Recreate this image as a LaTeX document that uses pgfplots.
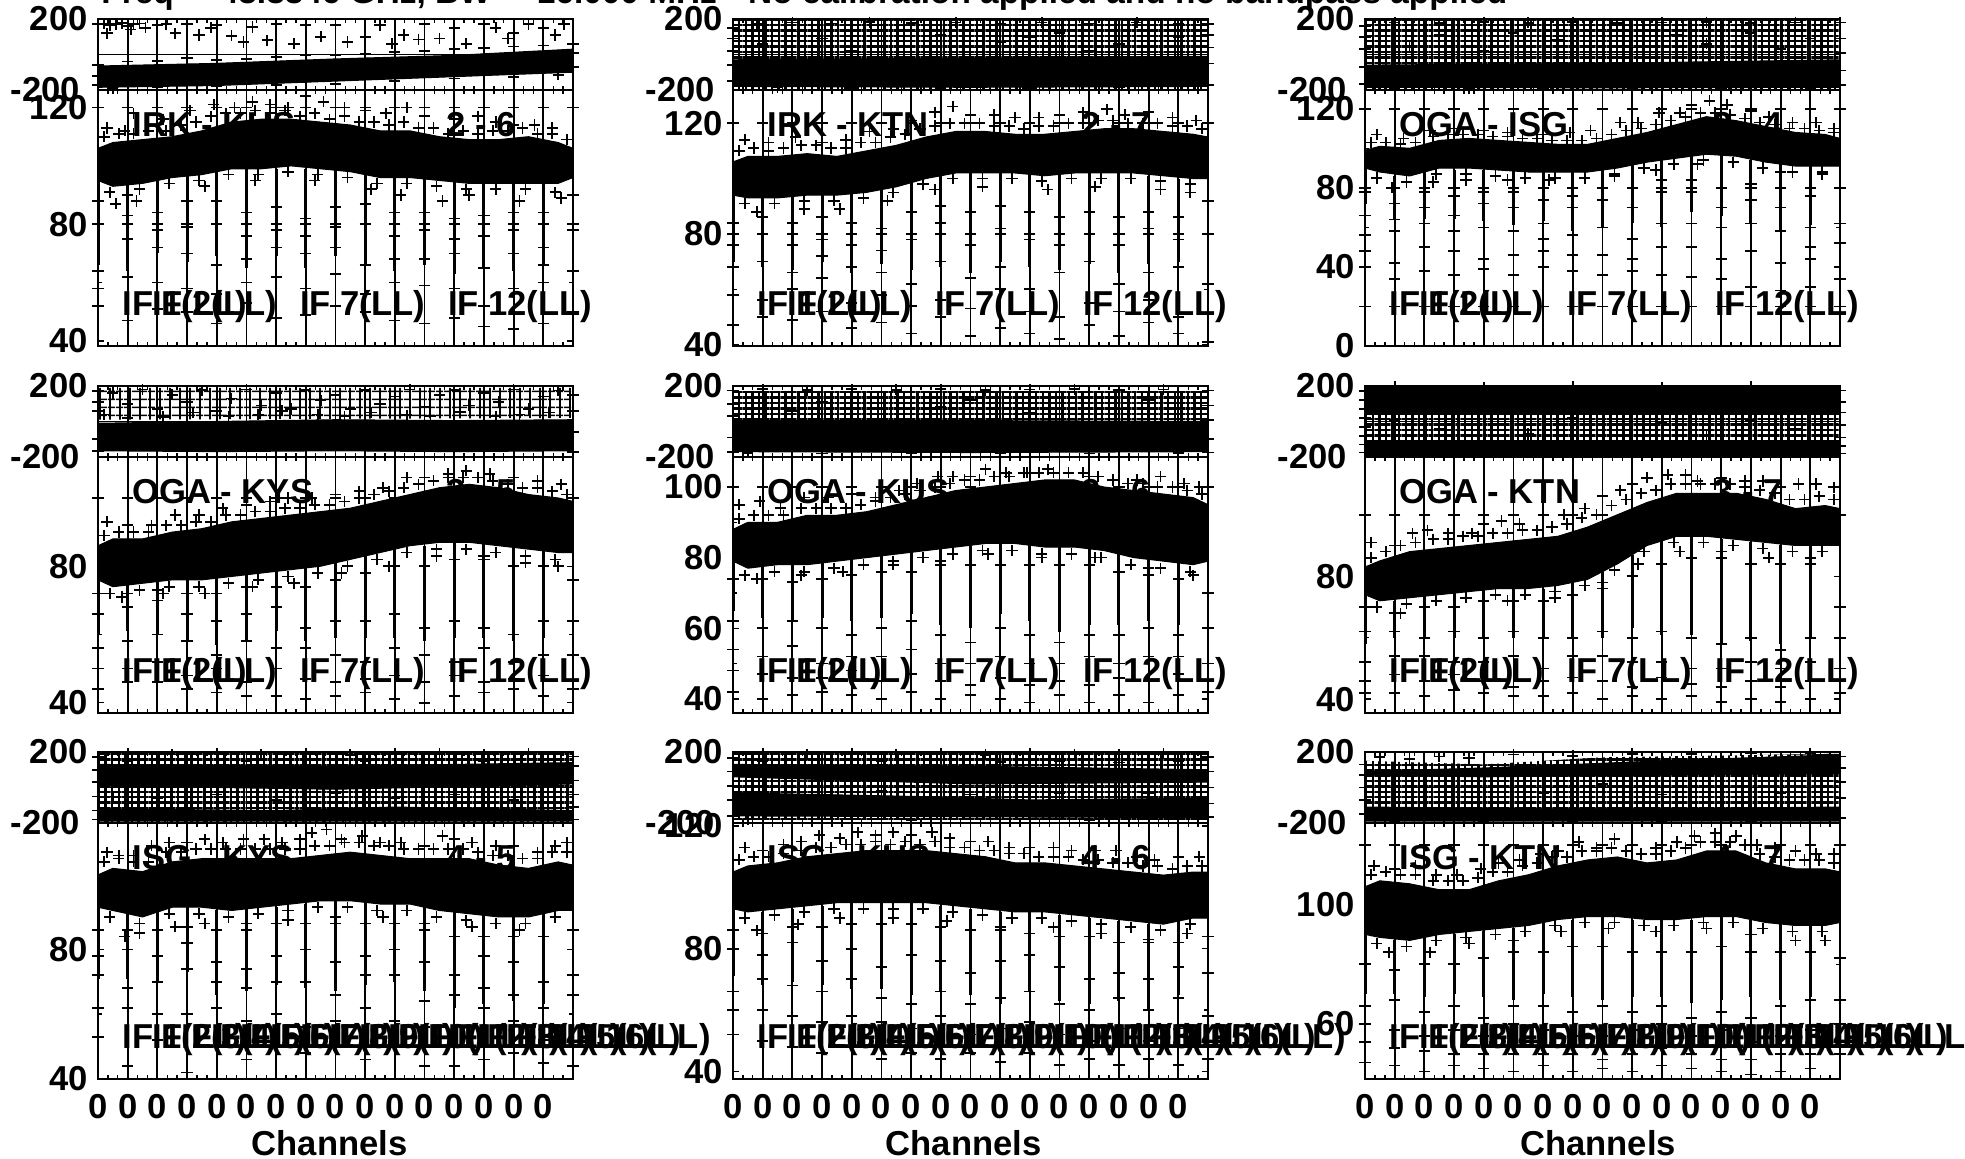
\documentclass[border=0pt]{standalone}
\usepackage{pgfplots}
\pgfplotsset{compat=1.18}
\usetikzlibrary{patterns.meta}
\usepackage{fontspec}
\setmainfont{Liberation Sans}
\newcommand{\lbl}{\fontsize{17.3}{19}\selectfont\bfseries}
\newcommand{\ttl}{\fontsize{16.7}{18}\selectfont\bfseries}
\pgfplotsset{
 base/.style={scale only axis,width=237.5pt,xmin=0,xmax=16,xtick={0,...,16},minor x tick num=2,
  xmajorgrids,major grid style={black,line width=.9pt},tick style={black,line width=.7pt},
  major tick length=3pt,minor tick length=2pt,tick align=inside,axis line style={black,line width=1pt},
  clip mode=individual,xticklabels={},tick label style={font=\lbl},
  yticklabel style={anchor=east,inner sep=0pt,xshift=-5pt},
  xticklabel style={anchor=north,inner sep=0pt,yshift=-7.5pt},anchor=south west},
 ph/.style={base,height=35.5pt,ymin=-200,ymax=200,ytick={-200,0,200},yticklabels={{-200\rule{3.7pt}{0pt}},,200},ymajorgrids},
 am/.style={base,height=128pt,minor y tick num=1},
 zero/.style={xticklabels={0,0,0,0,0,0,0,0,0,0,0,0,0,0,0,0,{}}}
}
\newcommand{\Bd}[1]{\addplot[black,fill=black,line width=.5pt,mark=none] coordinates {#1};}
\newcommand{\Gy}[1]{\addplot[draw=none,pattern={Lines[angle=0,distance=2.7pt,line width=1.25pt]},pattern color=black,mark=none] coordinates {#1};\addplot[draw=none,pattern={Lines[angle=90,distance=3.3pt,line width=1.25pt]},pattern color=black,mark=none] coordinates {#1};}
\newcommand{\Gz}[1]{\addplot[draw=none,pattern={Lines[angle=0,distance=4pt,line width=.9pt]},pattern color=black,mark=none] coordinates {#1};\addplot[draw=none,pattern={Lines[angle=90,distance=5pt,line width=.9pt]},pattern color=black,mark=none] coordinates {#1};}
\newcommand{\Mk}[1]{\addplot[black,only marks,mark=+,mark size=2.8pt,mark options={line width=.85pt}] coordinates {#1};}
\newcommand{\Sp}[1]{\addplot[black,only marks,mark=*,mark size=0pt,error bars/.cd,y dir=minus,y explicit,error mark=none,error bar style={black,line width=1.5pt}] coordinates {#1};}
\newcommand{\Cr}[1]{\addplot[black,only marks,mark=-,mark size=2.8pt,mark options={line width=.8pt}] coordinates {(0,#1)(1,#1)(2,#1)(3,#1)(4,#1)(5,#1)(6,#1)(7,#1)(8,#1)(9,#1)(10,#1)(11,#1)(12,#1)(13,#1)(14,#1)(15,#1)(16,#1)};}
\newcommand{\Nm}[4]{\node[anchor=base west,inner sep=0pt,font=\lbl] at (#1+17,#2+104.5) {#3};\node[anchor=base west,inner sep=0pt,font=\lbl] at (#1+174,#2+104.5) {#4};}
\newcommand{\Ifs}[3]{\foreach \n in {#3}{\node[anchor=base west,inner sep=0pt,font=\lbl] at ({#1+12+14.8*(\n-1)},#2+15.3) {IF \n(LL)};}}
\begin{document}
\begin{tikzpicture}[x=1pt,y=1pt]
\useasboundingbox (0,0) rectangle (982.5,579.5);
\node[anchor=base west,inner sep=0pt,font=\ttl] at (50.5,577.5) {Freq =\hspace{4pt} 43.8346 GHz, BW =\hspace{4pt} 16.000 MHz\hspace{11pt} No calibration applied and no bandpass applied};
% ---------- row 1 col 1
\begin{axis}[ph,at={(49pt,534.5pt)}]
\Bd{(0,-65)(4,-50)(8,-25)(12,-5)(16,30)(16,-100)(12,-125)(8,-150)(4,-175)(0,-185)}
\Mk{(0,170)(.2,175)(.4,165)(.6,172)(.8,176)(1,160)(1.2,172)(1.4,175)(1.6,150)(.3,120)(1.1,140)(2,165)(2.3,170)(2.6,120)(3,172)(3.4,110)(3.8,150)(4,165)(4.5,105)(4.9,70)(5.2,155)(5.7,80)(6,170)(6.6,60)(7,165)(7.5,100)(8,165)(8.4,70)(9,100)(9.5,165)(9.9,60)(10.3,110)(10.8,85)(11,170)(11.5,90)(12,150)(12.4,60)(13,170)(13.4,150)(13.8,90)(14,120)(14.5,170)(15,150)(15.4,110)(15.7,170)(16,60)(0,-120)(0,-170)(16,10)(16,-70)(0,-60)(1,-40)(2,-35)(3,-20)(5,-25)(7,-5)(9,5)(11,20)(13,35)(15,50)(.5,-190)(2,-185)(4,-180)(6,-170)(8,-165)(10,-150)(12,-135)(14,-125)(15.5,-115)(4,-30)(6,-15)(8,-5)(10,15)(12,30)(14,45)}
\end{axis}
\begin{axis}[am,at={(49pt,406.5pt)},ymin=38.3,ymax=126,ytick={40,80,120},yticklabels={40,80,120}]
\Bd{(0,106)(.5,108)(1.5,109)(2.5,110)(3.5,112)(4.5,115)(5.5,116)(6.5,116)(7.5,115)(8.5,114)(9.5,112)(10.5,112)(11.5,110)(12.5,109)(13.5,109)(14.5,110)(15.5,108)(16,106)(16,96)(15.5,94)(14.5,94)(13.5,94)(12.5,94)(11.5,95)(10.5,96)(9.5,96)(8.5,98)(7.5,99)(6.5,100)(5.5,99)(4.5,99)(3.5,97)(2.5,96)(1.5,94)(.5,93)(0,95)}
\Sp{(0,96) -= (0,30)(1,96) -= (0,32)(2,97) -= (0,27)(3,97) -= (0,30)(4,99) -= (0,30)(5,99) -= (0,34)(6,99) -= (0,30)(7,99) -= (0,34)(8,99) -= (0,30)(9,98) -= (0,32)(10,97) -= (0,33)(11,96) -= (0,30)(12,95) -= (0,32)(13,95) -= (0,30)(14,94) -= (0,30)(15,94) -= (0,28)(16,95) -= (0,20)}
\Cr{120}\Cr{80}
\Mk{(.2,110)(.7,111)(1.2,111)(1.7,112)(2.3,112)(2.8,114)(3.3,115)(3.8,117)(4.3,118)(4.8,118)(5.3,119)(5.8,118)(6.3,119)(6.8,117)(7.3,118)(7.8,116)(8.3,117)(8.8,115)(9.3,115)(9.8,114)(10.3,115)(10.8,113)(11.3,113)(11.8,111)(12.3,112)(12.8,111)(13.3,112)(13.8,112)(14.3,113)(14.8,111)(15.3,111)(15.8,109)
(.4,91)(1.4,92)(2.4,94)(3.4,95)(4.4,97)(5.4,97)(6.4,98)(7.4,97)(8.4,96)(9.4,94)(10.4,94)(11.4,93)(12.4,92)(13.4,92)(14.4,92)(15.4,91)
(1.2,118)(2.2,116)(3.1,119)(3.9,121)(4.6,120)(5.2,122)(5.8,121)(6.4,120)(7,124)(7.6,122)(8.3,120)(9,119)(9.7,118)(10.4,120)(11,117)(12,116)(12.8,117)(13.4,115)(14,114)(14.7,114)(.3,113)(.9,112)(15.3,113)(1.3,88)(3.6,93)(5.3,95)(7.3,95)(9.2,92)(10.2,90)(11.6,88)(12.5,90)(14.2,88)(15.6,89)(.6,87)
(0,88)(0,80)(0,64)(0,58)(0,52)(1,90)(1,83)(1,75)(1,62)(1,47)(2,84)(2,78)(2,72)(2,60)(2,51)(3,88)(3,79)(3,70)(3,58)(3,50)(4,88)(4,80)(4,66)(4,56)(4,46)(5,84)(5,76)(5,68)(5,60)(5,53)(6,86)(6,78)(6,72)(6,62)(6,48)(7,82)(7,76)(7,70)(7,58)(7,49)(8,86)(8,79)(8,72)(8,63)(8,52)(9,87)(9,80)(9,66)(9,56)(9,50)(10,84)(10,76)(10,68)(10,60)(10,47)(11,84)(11,78)(11,68)(11,59)(11,46)(12,82)(12,75)(12,70)(12,58)(12,48)(13,83)(13,76)(13,65)(13,52)(13,45)(14,84)(14,78)(14,70)(14,58)(14,44)(15,84)(15,72)(15,66)(15,60)(15,46)(16,90)(16,78)(16,64)(16,50)}
\end{axis}
% ---------- row 1 col 2
\begin{axis}[ph,at={(366.5pt,534.5pt)}]
\Gy{(0,-190)(0,190)(16,190)(16,-190)}
\Bd{(0,-30)(8,-20)(16,-10)(16,-180)(8,-185)(0,-180)}
\Mk{(0,150)(0,90)(0,20)(0,-60)(0,-150)(16,170)(16,110)(16,40)(16,-50)(16,-170)(.8,175)(2,180)(3.3,175)(4.6,182)(6,176)(7.5,180)(9,172)(10.4,180)(12,175)(13.6,180)(15,174)(1.5,-186)(4,-190)(7,-188)(10,-190)(13,-186)(1,60)(3,90)(5,40)(7,110)(9,70)(11,120)(13,60)(15,100)(2,130)(4,20)(6,130)(8,40)(10,100)(12,20)(14,140)}
\end{axis}
\begin{axis}[am,at={(366.5pt,406.5pt)},ymin=39.5,ymax=132,ytick={40,80,120},yticklabels={40,80,120}]
\Bd{(0,106)(.5,108)(1.5,108)(2.5,109)(3.5,108)(4.5,110)(5.5,112)(6.5,115)(7.5,117)(8.5,117)(9.5,116)(10.5,116)(11.5,117)(12.5,118)(13.5,118)(14.5,117)(15.5,116)(16,115)(16,100)(15.5,100)(14.5,101)(13.5,102)(12.5,102)(11.5,102)(10.5,101)(9.5,102)(8.5,102)(7.5,102)(6.5,100)(5.5,97)(4.5,95)(3.5,94)(2.5,94)(1.5,93)(.5,93)(0,94)}
\Sp{(0,94) -= (0,24)(1,94) -= (0,26)(2,95) -= (0,28)(3,95) -= (0,25)(4,96) -= (0,30)(5,97) -= (0,28)(6,100) -= (0,33)(7,102) -= (0,34)(8,102) -= (0,36)(9,102) -= (0,32)(10,102) -= (0,34)(11,102) -= (0,35)(12,102) -= (0,33)(13,102) -= (0,36)(14,101) -= (0,32)(15,100) -= (0,30)(16,100) -= (0,20)}
\Cr{120}\Cr{80}
\Mk{(.2,110)(.7,111)(1.2,110)(1.7,111)(2.3,112)(2.8,112)(3.3,111)(3.8,111)(4.3,113)(4.8,113)(5.3,115)(5.8,116)(6.3,118)(6.8,119)(7.3,120)(7.8,120)(8.3,120)(8.8,119)(9.3,119)(9.8,118)(10.3,119)(10.8,119)(11.3,120)(11.8,120)(12.3,121)(12.8,121)(13.3,120)(13.8,120)(14.3,120)(14.8,119)(15.3,119)(15.8,118)
(.4,91)(1.4,91)(2.4,92)(3.4,92)(4.4,93)(5.4,95)(6.4,98)(7.4,100)(8.4,100)(9.4,100)(10.4,99)(11.4,100)(12.4,100)(13.4,100)(14.4,99)(15.4,98)
(.4,114)(1.2,113)(2.1,115)(3,113)(3.8,114)(4.6,117)(5.4,118)(6,121)(6.8,124)(7.4,126)(8,123)(8.8,123)(9.5,122)(10.3,122)(11,123)(11.8,124)(12.6,125)(13.2,123)(14,124)(14.8,122)(15.6,121)(.8,88)(2.4,89)(3.6,89)(5.2,92)(6.8,96)(8.4,97)(10.6,96)(12.2,97)(14.4,96)(15.4,95)
(0,84)(0,76)(0,68)(0,58)(0,47)(1,86)(1,80)(1,70)(1,56)(1,50)(2,84)(2,76)(2,66)(2,60)(2,49)(3,86)(3,78)(3,72)(3,64)(3,52)(4,84)(4,76)(4,68)(4,55)(4,46)(5,82)(5,74)(5,66)(5,58)(5,48)(6,88)(6,78)(6,62)(6,54)(6,44)(7,90)(7,84)(7,70)(7,56)(7,50)(8,88)(8,76)(8,64)(8,53)(8,43)(9,90)(9,82)(9,68)(9,60)(9,46)(10,88)(10,78)(10,60)(10,52)(10,44)(11,86)(11,76)(11,66)(11,50)(11,42)(12,88)(12,80)(12,70)(12,55)(12,47)(13,86)(13,76)(13,62)(13,52)(13,43)(14,88)(14,82)(14,66)(14,56)(14,48)(15,86)(15,78)(15,68)(15,50)(15,44)(16,92)(16,80)(16,62)(16,41)}
\end{axis}
% ---------- row 1 col 3
\begin{axis}[ph,at={(682.5pt,534.5pt)}]
\Gy{(0,-190)(0,192)(16,192)(16,-190)}
\Bd{(0,-60)(8,-50)(16,-30)(16,-185)(8,-188)(0,-185)}
\Mk{(0,160)(0,100)(0,30)(0,-70)(0,-165)(16,180)(16,90)(16,10)(16,-90)(16,-170)(1,180)(2.5,176)(4,182)(5.5,178)(7,182)(8.5,176)(10,180)(11.5,182)(13,176)(14.5,180)(1,-190)(3.5,-192)(6,-190)(9,-192)(12,-190)(15,-192)(1.5,50)(4,20)(6.5,80)(9,40)(11.5,60)(14,30)(2.5,110)(5,120)(8,130)(10.5,110)(13,120)(15,90)}
\end{axis}
\begin{axis}[am,at={(682.5pt,406.5pt)},ymin=0,ymax=129.5,ytick={0,40,80,120},yticklabels={0,40,80,120}]
\Bd{(0,99)(.5,101)(1.5,100)(2.5,104)(3.5,105)(4.5,104)(5.5,103)(6.5,102)(7.5,102)(8.5,105)(9.5,108)(10.5,112)(11.5,116)(12.5,114)(13.5,111)(14.5,108)(15.5,107)(16,105)(16,91)(15.5,91)(14.5,91)(13.5,93)(12.5,96)(11.5,97)(10.5,95)(9.5,93)(8.5,90)(7.5,88)(6.5,88)(5.5,88)(4.5,89)(3.5,90)(2.5,90)(1.5,86)(.5,88)(0,90)}
\Sp{(0,90) -= (0,18)(1,86) -= (0,22)(2,88) -= (0,24)(3,89) -= (0,25)(4,89) -= (0,26)(5,89) -= (0,28)(6,88) -= (0,25)(7,88) -= (0,30)(8,90) -= (0,30)(9,92) -= (0,30)(10,94) -= (0,34)(11,96) -= (0,28)(12,96) -= (0,30)(13,94) -= (0,32)(14,92) -= (0,34)(15,91) -= (0,30)(16,91) -= (0,14)}
\Cr{120}\Cr{80}\Cr{20}
\Mk{(.2,103)(.7,103)(1.2,102)(1.7,103)(2.3,106)(2.8,107)(3.3,107)(3.8,107)(4.3,106)(4.8,106)(5.3,105)(5.8,105)(6.3,104)(6.8,104)(7.3,104)(7.8,105)(8.3,107)(8.8,109)(9.3,110)(9.8,112)(10.3,114)(10.8,116)(11.3,118)(11.8,118)(12.3,117)(12.8,115)(13.3,113)(13.8,112)(14.3,110)(14.8,110)(15.3,109)(15.8,108)
(.4,85)(1.4,83)(2.4,87)(3.4,87)(4.4,86)(5.4,85)(6.4,85)(7.4,85)(8.4,87)(9.4,90)(10.4,92)(11.4,94)(12.4,93)(13.4,90)(14.4,88)(15.4,88)
(.4,107)(1.3,105)(2.2,109)(3,110)(4,109)(4.8,108)(6,107)(6.9,108)(7.6,109)(8.6,113)(9.2,113)(9.9,118)(10.6,118)(11,122)(11.6,124)(12.2,122)(13,119)(13.6,116)(14.4,113)(15.2,113)(15.8,110)(.9,80)(2.3,83)(3.4,84)(4.8,84)(6.2,84)(7.4,85)(8.4,86)(9.8,89)(11.2,92)(12.4,93)(14,88)(15.4,87)
(0,78)(0,66)(0,56)(0,48)(0,40)(1,72)(1,64)(1,58)(1,42)(1,34)(2,78)(2,70)(2,62)(2,50)(2,38)(3,76)(3,66)(3,58)(3,48)(3,36)(4,78)(4,72)(4,60)(4,44)(4,39)(5,78)(5,70)(5,58)(5,46)(5,36)(6,74)(6,62)(6,54)(6,48)(6,40)(7,76)(7,70)(7,56)(7,46)(7,38)(8,80)(8,74)(8,60)(8,46)(8,36)(9,80)(9,70)(9,54)(9,44)(9,38)(10,84)(10,78)(10,62)(10,50)(10,36)(11,84)(11,78)(11,62)(11,50)(11,35)(12,80)(12,70)(12,60)(12,44)(12,34)(13,82)(13,74)(13,62)(13,48)(13,30)(14,80)(14,70)(14,58)(14,42)(14,28)(15,76)(15,60)(15,50)(15,44)(15,30)(16,80)(16,62)(16,52)(16,34)}
\end{axis}
% ---------- row 2 col 1
\begin{axis}[ph,at={(49pt,351pt)}]
\Gz{(0,10)(0,190)(16,190)(16,20)}
\Bd{(0,-10)(4,0)(8,10)(12,5)(16,10)(16,-165)(12,-170)(8,-165)(4,-170)(0,-165)}
\Mk{(0,170)(0,110)(0,60)(0,-100)(0,-165)(16,150)(16,60)(16,-60)(16,-170)(.5,160)(1,100)(1.5,180)(2,70)(2.5,150)(3,110)(3.5,176)(4,60)(4.5,130)(5,180)(5.5,90)(6,160)(6.5,70)(7,176)(7.5,120)(8,150)(8.5,70)(9,176)(9.5,100)(10,140)(10.5,180)(11,80)(11.5,150)(12,176)(12.5,90)(13,160)(13.5,110)(14,180)(14.5,70)(15,140)(15.5,175)(.2,40)(3.2,50)(6.2,60)(9.2,50)(12.2,55)(15.2,50)(1,20)(2.2,25)(4.4,30)(5.4,40)(7.4,40)(8.3,30)(10.4,35)(11.2,30)(13.4,30)(14.2,40)}
\end{axis}
\begin{axis}[am,at={(49pt,223pt)},ymin=37,ymax=112,ytick={40,80},yticklabels={40,80}]
\Bd{(0,86)(.5,88)(1.5,88)(2.5,90)(3.5,91)(4.5,93)(5.5,94)(6.5,95)(7.5,96)(8.5,97)(9.5,99)(10.5,101)(11.5,103)(12.5,104)(13.5,103)(14.5,101)(15.5,100)(16,99)(16,84)(15.5,84)(14.5,85)(13.5,86)(12.5,87)(11.5,87)(10.5,86)(9.5,84)(8.5,82)(7.5,80)(6.5,79)(5.5,78)(4.5,77)(3.5,76)(2.5,76)(1.5,75)(.5,74)(0,76)}
\Sp{(0,76) -= (0,16)(1,75) -= (0,14)(2,76) -= (0,16)(3,76) -= (0,18)(4,77) -= (0,20)(5,78) -= (0,20)(6,79) -= (0,18)(7,80) -= (0,22)(8,81) -= (0,22)(9,83) -= (0,24)(10,85) -= (0,26)(11,86) -= (0,28)(12,87) -= (0,28)(13,87) -= (0,28)(14,86) -= (0,28)(15,85) -= (0,26)(16,84) -= (0,14)}
\Cr{100}
\Mk{(.2,89)(.7,90)(1.2,90)(1.7,90)(2.3,92)(2.8,92)(3.3,93)(3.8,93)(4.3,95)(4.8,95)(5.3,96)(5.8,96)(6.3,97)(6.8,97)(7.3,98)(7.8,98)(8.3,99)(8.8,100)(9.3,101)(9.8,102)(10.3,103)(10.8,104)(11.3,105)(11.8,106)(12.3,106)(12.8,106)(13.3,105)(13.8,104)(14.3,103)(14.8,103)(15.3,102)(15.8,101)
(.4,72)(1.4,73)(2.4,74)(3.4,74)(4.4,75)(5.4,76)(6.4,77)(7.4,78)(8.4,80)(9.4,82)(10.4,84)(11.4,85)(12.4,85)(13.4,84)(14.4,83)(15.4,82)
(.3,93)(1,92)(1.8,92)(2.6,95)(3.4,95)(4.2,97)(5,98)(5.8,99)(6.4,100)(7.2,100)(8,101)(8.8,102)(9.6,103)(10.4,106)(11,106)(11.8,107)(12.4,108)(13.2,107)(14,106)(14.8,105)(15.6,104)(.8,71)(2.2,72)(3.6,72)(5.2,74)(6.6,75)(8.2,78)(9.8,80)(11.4,83)(13,83)(14.4,81)(15.5,80)
(0,72)(0,66)(0,56)(0,50)(0,44)(1,72)(1,68)(1,58)(1,50)(1,46)(2,73)(2,70)(2,60)(2,52)(2,46)(3,72)(3,66)(3,58)(3,48)(3,44)(4,72)(4,64)(4,54)(4,50)(4,43)(5,74)(5,66)(5,58)(5,46)(5,42)(6,74)(6,68)(6,56)(6,50)(6,42)(7,74)(7,62)(7,56)(7,47)(7,41)(8,76)(8,64)(8,54)(8,46)(8,42)(9,78)(9,64)(9,52)(9,47)(9,43)(10,80)(10,66)(10,56)(10,48)(10,41)(11,80)(11,62)(11,54)(11,46)(11,40)(12,82)(12,64)(12,52)(12,48)(12,42)(13,82)(13,62)(13,56)(13,46)(13,43)(14,80)(14,60)(14,52)(14,47)(14,44)(15,80)(15,64)(15,54)(15,48)(15,42)(16,76)(16,64)(16,54)(16,44)}
\end{axis}
% ---------- row 2 col 2
\begin{axis}[ph,at={(366.5pt,351pt)}]
\Gy{(0,0)(0,170)(16,170)(16,0)}
\Bd{(0,5)(8,5)(16,0)(16,-170)(8,-175)(0,-170)}
\Mk{(0,175)(0,100)(0,30)(0,-90)(0,-170)(16,175)(16,90)(16,10)(16,-100)(16,-175)(1,182)(2.5,176)(4,182)(5.5,178)(7,182)(8.5,176)(10,180)(11.5,182)(13,176)(14.5,180)(.5,-176)(3,-180)(6,-178)(9,-180)(12,-180)(15,-178)(2,60)(4,40)(7,80)(10,50)(13,70)(1,130)(3,110)(5,140)(8,120)(11,130)(14,120)}
\end{axis}
\begin{axis}[am,at={(366.5pt,223pt)},ymin=36,ymax=108.5,ytick={40,60,80,100},yticklabels={40,60,80,100}]
\Bd{(0,88)(.5,90)(1.5,90)(2.5,92)(3.5,92)(4.5,93)(5.5,95)(6.5,97)(7.5,99)(8.5,100)(9.5,101)(10.5,102)(11.5,102)(12.5,100)(13.5,99)(14.5,98)(15.5,97)(16,95)(16,79)(15.5,78)(14.5,79)(13.5,80)(12.5,82)(11.5,83)(10.5,83)(9.5,84)(8.5,84)(7.5,83)(6.5,82)(5.5,81)(4.5,80)(3.5,79)(2.5,78)(1.5,78)(.5,77)(0,79)}
\Sp{(0,79) -= (0,14)(1,78) -= (0,15)(2,78) -= (0,16)(3,79) -= (0,16)(4,80) -= (0,18)(5,81) -= (0,18)(6,82) -= (0,18)(7,83) -= (0,22)(8,84) -= (0,24)(9,84) -= (0,20)(10,84) -= (0,22)(11,83) -= (0,24)(12,83) -= (0,22)(13,81) -= (0,20)(14,80) -= (0,18)(15,79) -= (0,18)(16,79) -= (0,12)}
\Cr{100}
\Mk{(.2,91)(.7,92)(1.2,92)(1.7,92)(2.3,94)(2.8,94)(3.3,94)(3.8,94)(4.3,95)(4.8,96)(5.3,97)(5.8,98)(6.3,99)(6.8,100)(7.3,101)(7.8,102)(8.3,102)(8.8,103)(9.3,103)(9.8,104)(10.3,104)(10.8,104)(11.3,104)(11.8,104)(12.3,103)(12.8,102)(13.3,101)(13.8,101)(14.3,100)(14.8,100)(15.3,99)(15.8,98)
(.4,75)(1.4,76)(2.4,76)(3.4,77)(4.4,78)(5.4,79)(6.4,80)(7.4,81)(8.4,82)(9.4,82)(10.4,81)(11.4,81)(12.4,80)(13.4,78)(14.4,77)(15.4,76)
(.2,95)(.9,96)(1.6,94)(2.4,97)(3.2,97)(4,98)(4.8,97)(5.6,99)(6.2,101)(6.9,103)(7.4,103)(8,103)(8.5,105)(9.2,104)(9.9,104)(10.6,105)(11.3,104)(12,103)(12.8,102)(13.6,102)(14.4,103)(15.2,101)(15.7,100)(.8,74)(2.3,75)(3.7,76)(5.4,78)(7,79)(8.6,81)(10.4,80)(12.2,80)(14,77)(15.5,75)
(0,74)(0,62)(0,54)(0,48)(0,42)(1,74)(1,60)(1,52)(1,47)(1,40)(2,73)(2,62)(2,55)(2,46)(2,41)(3,74)(3,60)(3,50)(3,46)(3,42)(4,75)(4,58)(4,52)(4,48)(4,41)(5,76)(5,60)(5,52)(5,45)(5,40)(6,76)(6,62)(6,54)(6,47)(6,42)(7,78)(7,58)(7,50)(7,45)(7,40)(8,78)(8,56)(8,50)(8,44)(8,41)(9,78)(9,60)(9,52)(9,46)(9,40)(10,78)(10,58)(10,50)(10,44)(10,39)(11,78)(11,56)(11,50)(11,45)(11,41)(12,78)(12,58)(12,52)(12,44)(12,39)(13,76)(13,58)(13,50)(13,46)(13,41)(14,75)(14,60)(14,52)(14,45)(14,39)(15,74)(15,58)(15,52)(15,47)(15,41)(16,70)(16,60)(16,50)(16,42)}
\end{axis}
% ---------- row 2 col 3
\begin{axis}[ph,at={(682.5pt,351pt)}]
\Gy{(0,40)(16,40)(16,-107)(0,-107)}
\Bd{(0,190)(16,190)(16,40)(0,40)}
\Bd{(0,-107)(16,-107)(16,-190)(0,-190)}
\Mk{(0,170)(0,120)(0,70)(0,20)(0,-30)(0,-80)(0,-130)(0,-175)(16,175)(16,110)(16,50)(16,-20)(16,-90)(16,-140)(16,-180)(1,10)(2.5,-40)(4,0)(5.5,-70)(7,20)(8.5,-50)(10,-10)(11.5,-80)(13,10)(14.5,-40)(1,195)(4,192)(7,196)(10,192)(13,195)}
\end{axis}
\begin{axis}[am,at={(682.5pt,223pt)},ymin=35.5,ymax=118.8,ytick={40,80},yticklabels={40,80}]
\Bd{(0,83)(.5,85)(1.5,88)(2.5,89)(3.5,90)(4.5,91)(5.5,92)(6.5,93)(7.5,96)(8.5,100)(9.5,104)(10.5,107)(11.5,107)(12.5,107)(13.5,105)(14.5,102)(15.5,103)(16,102)(16,90)(15.5,90)(14.5,90)(13.5,91)(12.5,92)(11.5,93)(10.5,93)(9.5,90)(8.5,84)(7.5,79)(6.5,77)(5.5,76)(4.5,76)(3.5,75)(2.5,74)(1.5,73)(.5,72)(0,74)}
\Sp{(0,74) -= (0,16)(1,72) -= (0,12)(2,74) -= (0,14)(3,75) -= (0,15)(4,76) -= (0,16)(5,76) -= (0,16)(6,76) -= (0,16)(7,78) -= (0,18)(8,82) -= (0,22)(9,87) -= (0,24)(10,91) -= (0,30)(11,93) -= (0,32)(12,92) -= (0,34)(13,91) -= (0,32)(14,90) -= (0,32)(15,90) -= (0,30)(16,90) -= (0,16)}
\Cr{100}
\Mk{(.2,86)(.7,88)(1.2,90)(1.7,91)(2.3,92)(2.8,92)(3.3,93)(3.8,93)(4.3,94)(4.8,94)(5.3,95)(5.8,95)(6.3,96)(6.8,97)(7.3,99)(7.8,100)(8.3,103)(8.8,105)(9.3,107)(9.8,108)(10.3,110)(10.8,110)(11.3,110)(11.8,110)(12.3,110)(12.8,109)(13.3,108)(13.8,107)(14.3,105)(14.8,105)(15.3,106)(15.8,105)
(.4,70)(1.4,71)(2.4,72)(3.4,73)(4.4,74)(5.4,74)(6.4,75)(7.4,77)(8.4,82)(9.4,88)(10.4,91)(11.4,91)(12.4,90)(13.4,89)(14.4,88)(15.4,88)
(.2,91)(1,90)(1.6,94)(2.1,95)(2.8,94)(3.6,94)(4,97)(4.6,98)(5.2,97)(6,100)(6.7,100)(7.4,102)(8,106)(8.6,108)(9,110)(9.5,112)(10.2,113)(10.8,113)(11.2,111)(12,112)(12.8,111)(13.4,111)(14,109)(14.6,110)(15.2,110)(15.8,109)(1.2,68)(3,70)(4.8,72)(6.4,73)(8,78)(9.2,84)(10.6,88)(12,88)(13.6,86)(15,86)
(0,70)(0,62)(0,52)(0,46)(0,42)(1,68)(1,62)(1,54)(1,48)(1,42)(2,70)(2,60)(2,54)(2,46)(2,41)(3,70)(3,62)(3,52)(3,48)(3,43)(4,72)(4,60)(4,52)(4,46)(4,42)(5,72)(5,62)(5,54)(5,44)(5,41)(6,72)(6,60)(6,50)(6,46)(6,41)(7,74)(7,60)(7,54)(7,47)(7,42)(8,76)(8,62)(8,54)(8,46)(8,40)(9,80)(9,60)(9,52)(9,44)(9,41)(10,84)(10,62)(10,52)(10,47)(10,40)(11,86)(11,60)(11,50)(11,45)(11,41)(12,86)(12,58)(12,50)(12,44)(12,39)(13,84)(13,60)(13,52)(13,46)(13,40)(14,84)(14,56)(14,50)(14,44)(14,39)(15,84)(15,60)(15,52)(15,46)(15,40)(16,70)(16,60)(16,50)(16,42)}
\end{axis}
% ---------- row 3 col 1
\begin{axis}[ph,at={(49pt,168pt)}]
\Gy{(0,-190)(0,190)(16,190)(16,-190)}
\Bd{(0,130)(8,120)(16,140)(16,20)(8,-10)(0,10)}
\Bd{(0,-120)(6,-130)(10,-110)(16,-130)(16,-190)(0,-190)}
\Mk{(0,170)(0,100)(0,30)(0,-50)(0,-130)(0,-180)(16,175)(16,120)(16,40)(16,-40)(16,-110)(16,-180)(1,190)(2.5,185)(4,192)(5.5,186)(7,190)(8.5,184)(10,190)(11.5,192)(13,186)(14.5,190)(.5,-50)(2,-60)(4,-40)(6,-70)(8,-30)(10,-60)(12,-40)(14,-70)(1,150)(3,160)(5,150)(7,160)(9,150)(11,160)(13,150)(15,160)}
\end{axis}
\begin{axis}[am,at={(49pt,40pt)},ymin=40,ymax=119,ytick={40,80},yticklabels={40,80},zero]
\Bd{(0,103)(.5,105)(1.5,104)(2.5,107)(3.5,108)(4.5,108)(5.5,108)(6.5,108)(7.5,109)(8.5,110)(9.5,109)(10.5,108)(11.5,108)(12.5,108)(13.5,106)(14.5,105)(15.5,107)(16,106)(16,92)(15.5,92)(14.5,90)(13.5,90)(12.5,91)(11.5,92)(10.5,94)(9.5,94)(8.5,95)(7.5,95)(6.5,94)(5.5,93)(4.5,92)(3.5,93)(2.5,93)(1.5,90)(.5,92)(0,93)}
\Sp{(0,93) -= (0,22)(1,91) -= (0,20)(2,92) -= (0,22)(3,93) -= (0,20)(4,92) -= (0,26)(5,93) -= (0,26)(6,93) -= (0,24)(7,94) -= (0,26)(8,95) -= (0,28)(9,95) -= (0,26)(10,94) -= (0,24)(11,93) -= (0,26)(12,92) -= (0,30)(13,91) -= (0,28)(14,90) -= (0,26)(15,91) -= (0,28)(16,92) -= (0,12)}
\Mk{(.2,107)(.7,108)(1.2,107)(1.7,107)(2.3,110)(2.8,110)(3.3,111)(3.8,111)(4.3,111)(4.8,111)(5.3,111)(5.8,111)(6.3,111)(6.8,111)(7.3,112)(7.8,112)(8.3,113)(8.8,113)(9.3,112)(9.8,112)(10.3,111)(10.8,111)(11.3,111)(11.8,111)(12.3,111)(12.8,110)(13.3,109)(13.8,109)(14.3,108)(14.8,108)(15.3,110)(15.8,110)
(.4,90)(1.4,88)(2.4,91)(3.4,91)(4.4,90)(5.4,91)(6.4,92)(7.4,93)(8.4,93)(9.4,92)(10.4,92)(11.4,90)(12.4,89)(13.4,88)(14.4,88)(15.4,90)
(.3,110)(.7,109)(1.2,109)(1.8,112)(2.4,113)(3,113)(3.6,114)(4.2,113)(4.9,114)(5.6,114)(6.2,113)(6.8,114)(7.2,116)(7.7,117)(8.2,114)(8.9,115)(9.5,113)(10.2,113)(11,112)(11.6,115)(12,114)(12.6,113)(13.4,112)(14,112)(14.8,110)(15.4,112)(15.8,113)(.9,84)(1.4,85)(2.6,87)(3.6,88)(5,88)(6.4,89)(8,90)(9.6,90)(11,88)(12.6,87)(14.2,86)
(0,86)(0,78)(0,72)(0,62)(0,53)(1,86)(1,80)(1,68)(1,62)(1,44)(2,86)(2,78)(2,70)(2,60)(2,52)(3,87)(3,82)(3,74)(3,60)(3,42)(4,86)(4,76)(4,70)(4,62)(4,50)(5,86)(5,74)(5,68)(5,58)(5,46)(6,88)(6,78)(6,70)(6,60)(6,50)(7,88)(7,80)(7,70)(7,56)(7,48)(8,88)(8,76)(8,66)(8,58)(8,50)(9,88)(9,78)(9,72)(9,62)(9,46)(10,88)(10,80)(10,72)(10,58)(10,50)(11,86)(11,76)(11,64)(11,56)(11,44)(12,84)(12,72)(12,66)(12,50)(12,44)(13,84)(13,78)(13,68)(13,62)(13,46)(14,84)(14,76)(14,66)(14,58)(14,48)(15,84)(15,70)(15,62)(15,52)(15,45)(16,86)(16,72)(16,66)(16,44)}
\end{axis}
% ---------- row 3 col 2
\begin{axis}[ph,at={(366.5pt,168pt)}]
\Gy{(0,-180)(0,190)(16,190)(16,-180)}
\Bd{(0,130)(8,120)(16,100)(16,30)(8,20)(0,60)}
\Bd{(0,-30)(6,-50)(10,-70)(16,-60)(16,-170)(0,-160)}
\Mk{(0,165)(0,90)(0,10)(0,-70)(0,-160)(16,170)(16,90)(16,0)(16,-90)(16,-165)(1,190)(2.5,185)(4,190)(5.5,186)(7,190)(8.5,184)(10,190)(11.5,188)(13,186)(14.5,190)(.5,-180)(3,-178)(6,-182)(9,-180)(12,-182)(15,-178)(2,0)(5,-20)(8,-40)(11,-30)(14,-30)(1,150)(3,160)(5,150)(7,155)(9,145)(11,150)(13,140)(15,150)}
\end{axis}
\begin{axis}[am,at={(366.5pt,40pt)},ymin=37.5,ymax=121,ytick={40,80,120},yticklabels={40,80,120},zero]
\Bd{(0,105)(.5,107)(1.5,108)(2.5,110)(3.5,111)(4.5,112)(5.5,112)(6.5,112)(7.5,111)(8.5,110)(9.5,108)(10.5,108)(11.5,107)(12.5,106)(13.5,105)(14.5,104)(15.5,105)(16,105)(16,90)(15.5,90)(14.5,88)(13.5,89)(12.5,90)(11.5,91)(10.5,92)(9.5,92)(8.5,93)(7.5,94)(6.5,95)(5.5,95)(4.5,95)(3.5,95)(2.5,94)(1.5,93)(.5,92)(0,93)}
\Sp{(0,93) -= (0,22)(1,92) -= (0,24)(2,93) -= (0,24)(3,94) -= (0,26)(4,95) -= (0,28)(5,95) -= (0,28)(6,95) -= (0,30)(7,94) -= (0,28)(8,93) -= (0,28)(9,92) -= (0,30)(10,92) -= (0,26)(11,91) -= (0,28)(12,90) -= (0,28)(13,89) -= (0,26)(14,88) -= (0,28)(15,89) -= (0,24)(16,90) -= (0,12)}
\Mk{(.2,109)(.7,110)(1.2,110)(1.7,111)(2.3,112)(2.8,113)(3.3,113)(3.8,114)(4.3,114)(4.8,115)(5.3,114)(5.8,115)(6.3,114)(6.8,115)(7.3,113)(7.8,113)(8.3,112)(8.8,112)(9.3,111)(9.8,111)(10.3,110)(10.8,110)(11.3,110)(11.8,109)(12.3,109)(12.8,108)(13.3,108)(13.8,107)(14.3,107)(14.8,106)(15.3,107)(15.8,107)
(.4,90)(1.4,91)(2.4,92)(3.4,93)(4.4,93)(5.4,93)(6.4,93)(7.4,92)(8.4,91)(9.4,90)(10.4,90)(11.4,89)(12.4,88)(13.4,87)(14.4,86)(15.4,88)
(.4,113)(1,112)(1.7,114)(2.3,115)(2.9,117)(3.6,116)(4.2,118)(4.8,117)(5.4,118)(6,117)(6.7,118)(7.3,116)(8,115)(8.6,115)(9.3,113)(10,113)(10.8,113)(11.4,112)(12.2,112)(12.9,112)(13.6,110)(14.2,109)(15,110)(15.7,110)(.8,86)(2.2,88)(3.6,90)(5.4,90)(7.2,89)(9,87)(10.8,87)(12.4,85)(14,83)(15.3,85)
(0,86)(0,80)(0,66)(0,60)(0,52)(1,85)(1,78)(1,70)(1,60)(1,50)(2,87)(2,82)(2,68)(2,58)(2,48)(3,87)(3,76)(3,66)(3,56)(3,46)(4,88)(4,80)(4,70)(4,58)(4,48)(5,88)(5,74)(5,64)(5,56)(5,44)(6,88)(6,78)(6,62)(6,54)(6,46)(7,87)(7,76)(7,66)(7,58)(7,44)(8,86)(8,72)(8,62)(8,52)(8,46)(9,86)(9,76)(9,64)(9,54)(9,43)(10,85)(10,78)(10,66)(10,56)(10,46)(11,84)(11,74)(11,62)(11,52)(11,42)(12,84)(12,70)(12,60)(12,50)(12,44)(13,82)(13,72)(13,64)(13,54)(13,42)(14,82)(14,70)(14,60)(14,50)(14,44)(15,82)(15,74)(15,64)(15,54)(15,42)(16,84)(16,72)(16,58)(16,44)}
\end{axis}
% ---------- row 3 col 3
\begin{axis}[ph,at={(682.5pt,168pt)}]
\Gy{(0,-190)(0,150)(4,130)(8,170)(16,190)(16,-190)}
\Bd{(0,-110)(6,-120)(10,-120)(16,-110)(16,-190)(0,-190)}
\Bd{(0,90)(4,110)(10,150)(16,185)(16,80)(10,70)(4,60)(0,70)}
\Mk{(0,130)(0,70)(0,0)(0,-70)(0,-150)(16,175)(16,110)(16,30)(16,-60)(16,-170)(.5,170)(1.5,160)(2.5,175)(3.5,165)(5,185)(7,178)(9,190)(11,190)(13,192)(15,192)(2,40)(4,0)(6,-30)(8,20)(10,-40)(12,10)(14,-30)(1,-195)(4,-192)(7,-195)(10,-192)(13,-195)}
\end{axis}
\begin{axis}[am,at={(682.5pt,40pt)},ymin=41.5,ymax=127.4,ytick={60,100},yticklabels={60,100},zero]
\Bd{(0,106)(.5,108)(1.5,107)(2.5,105)(3.5,105)(4.5,108)(5.5,110)(6.5,113)(7.5,115)(8.5,116)(9.5,114)(10.5,115)(11.5,118)(12.5,118)(13.5,114)(14.5,112)(15.5,112)(16,111)(16,94)(15.5,93)(14.5,93)(13.5,94)(12.5,96)(11.5,96)(10.5,95)(9.5,95)(8.5,96)(7.5,96)(6.5,95)(5.5,93)(4.5,92)(3.5,91)(2.5,90)(1.5,88)(.5,89)(0,90)}
\Sp{(0,90) -= (0,20)(1,88) -= (0,18)(2,89) -= (0,20)(3,90) -= (0,20)(4,91) -= (0,22)(5,92) -= (0,24)(6,94) -= (0,24)(7,95) -= (0,26)(8,96) -= (0,28)(9,95) -= (0,26)(10,95) -= (0,26)(11,95) -= (0,28)(12,96) -= (0,28)(13,95) -= (0,26)(14,94) -= (0,26)(15,93) -= (0,24)(16,94) -= (0,12)}
\Cr{120}
\Mk{(.2,110)(.7,111)(1.2,110)(1.7,110)(2.3,108)(2.8,108)(3.3,108)(3.8,109)(4.3,111)(4.8,111)(5.3,113)(5.8,114)(6.3,116)(6.8,116)(7.3,118)(7.8,118)(8.3,119)(8.8,118)(9.3,117)(9.8,117)(10.3,118)(10.8,119)(11.3,121)(11.8,121)(12.3,121)(12.8,120)(13.3,117)(13.8,116)(14.3,115)(14.8,115)(15.3,115)(15.8,114)
(.4,87)(1.4,86)(2.4,88)(3.4,89)(4.4,90)(5.4,91)(6.4,93)(7.4,94)(8.4,94)(9.4,93)(10.4,93)(11.4,94)(12.4,94)(13.4,92)(14.4,91)(15.4,91)
(.3,113)(1,112)(1.7,113)(2.4,110)(3.1,110)(3.9,112)(4.5,114)(5.2,115)(5.9,117)(6.5,118)(7.2,121)(7.8,119)(8.4,122)(9,120)(9.8,119)(10.5,121)(11.1,123)(11.8,124)(12.5,123)(13.2,120)(13.8,119)(14.5,118)(15.2,117)(15.8,117)(.8,84)(2.2,84)(3.5,87)(5,88)(6.6,91)(8.2,92)(9.8,91)(11.5,92)(13,90)(14.5,88)(15.5,88)
(0,80)(0,66)(0,60)(0,54)(0,47)(1,78)(1,68)(1,58)(1,52)(1,46)(2,80)(2,64)(2,56)(2,51)(2,44)(3,80)(3,66)(3,58)(3,50)(3,46)(4,82)(4,62)(4,56)(4,50)(4,45)(5,84)(5,66)(5,60)(5,50)(5,44)(6,84)(6,66)(6,58)(6,50)(6,46)(7,86)(7,64)(7,56)(7,50)(7,44)(8,86)(8,66)(8,56)(8,48)(8,45)(9,84)(9,64)(9,58)(9,50)(9,44)(10,84)(10,66)(10,60)(10,52)(10,46)(11,84)(11,62)(11,56)(11,50)(11,45)(12,86)(12,64)(12,58)(12,48)(12,44)(13,84)(13,62)(13,54)(13,48)(13,43)(14,84)(14,66)(14,56)(14,50)(14,44)(15,84)(15,68)(15,58)(15,50)(15,45)(16,82)(16,68)(16,60)(16,50)}
\end{axis}
% ---------- text
\Nm{49}{406.5}{IRK - KUS}{2 - 6}\Ifs{49}{406.5}{1,2,7,12}
\Nm{366.5}{406.5}{IRK - KTN}{2 - 7}\Ifs{366.5}{406.5}{1,2,7,12}
\Nm{682.5}{406.5}{OGA - ISG}{3 - 4}\Ifs{682.5}{406.5}{1,2,7,12}
\Nm{49}{223}{OGA - KYS}{3 - 5}\Ifs{49}{223}{1,2,7,12}
\Nm{366.5}{223}{OGA - KUS}{3 - 6}\Ifs{366.5}{223}{1,2,7,12}
\Nm{682.5}{223}{OGA - KTN}{3 - 7}\Ifs{682.5}{223}{1,2,7,12}
\Nm{49}{40}{ISG - KYS}{4 - 5}\Ifs{49}{40}{1,2,3,4,5,6,7,8,9,10,11,12,13,14,15,16}
\Nm{366.5}{40}{ISG - KUS}{4 - 6}\Ifs{366.5}{40}{1,2,3,4,5,6,7,8,9,10,11,12,13,14,15,16}
\Nm{682.5}{40}{ISG - KTN}{4 - 7}\Ifs{682.5}{40}{1,2,3,4,5,6,7,8,9,10,11,12,13,14,15,16}
\node[font=\lbl] at (164.8,8) {Channels};
\node[font=\lbl] at (481.8,8) {Channels};
\node[font=\lbl] at (799,8) {Channels};
\end{tikzpicture}
\end{document}
